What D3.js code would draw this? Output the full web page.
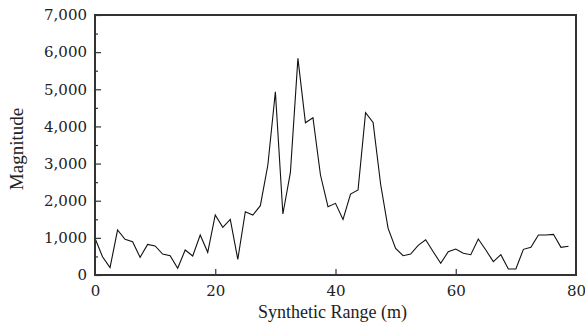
<!DOCTYPE html>
<html>
<head>
<meta charset="utf-8">
<script src="https://cdnjs.cloudflare.com/ajax/libs/d3/7.8.5/d3.min.js"></script>
<style>
  body { margin: 0; background: #fff; }
</style>
</head>
<body>
<div id="chart"></div>
<script>
// sample spacing along the synthetic range (m)
var step = 1.25;
var magnitude = [
    990, 493, 197, 1211, 960, 897, 476, 825, 781, 565,
    520, 180, 673, 511, 1077, 610, 1615, 1283, 1498, 422,
    1705, 1615, 1866, 2961, 4935, 1642, 2764, 5833, 4100, 4235,
    2692, 1839, 1929, 1498, 2180, 2288, 4370, 4110, 2450, 1256,
    718, 520, 565, 800, 950, 628, 314, 628, 700, 583,
    547, 969, 673, 359, 547, 161, 161, 691, 745, 1077,
    1077, 1095, 745, 772
];
var xTicks = [0, 20, 40, 60, 80];
var yTicks = [0, 1000, 2000, 3000, 4000, 5000, 6000, 7000];
var yMinor = [500, 1500, 2500, 3500, 4500, 5500, 6500];

var serif = "'Liberation Serif', 'DejaVu Serif', serif";
var tickFont = "'DejaVu Serif', serif";
var width = 585, height = 325;
var margin = {top: 15, right: 9, bottom: 50, left: 95};

var svg = d3.select("#chart").append("svg")
    .attr("width", width)
    .attr("height", height);

var x = d3.scaleLinear().domain([0, 80]).range([margin.left, width - margin.right]);
var y = d3.scaleLinear().domain([0, 7000]).range([height - margin.bottom, margin.top]);

var fmt = d3.format(",");

// data line
var line = d3.line()
    .x(function(d, i) { return x(i * step); })
    .y(function(d) { return y(d); });

svg.append("path")
    .datum(magnitude)
    .attr("fill", "none")
    .attr("stroke", "#111")
    .attr("stroke-width", 1.1)
    .attr("d", line);

// ticks point inward
var xAxis = svg.append("g")
    .attr("transform", "translate(0," + y(0) + ")")
    .call(d3.axisBottom(x).tickValues(xTicks).tickSize(-6).tickPadding(10).tickFormat(d3.format("d")));

var yAxis = svg.append("g")
    .attr("transform", "translate(" + x(0) + ",0)")
    .call(d3.axisLeft(y).tickValues(yTicks).tickSize(-6).tickPadding(8).tickFormat(fmt));

svg.append("g")
    .attr("transform", "translate(" + x(0) + ",0)")
    .call(d3.axisLeft(y).tickValues(yMinor).tickSize(-3).tickFormat(""));

svg.selectAll(".tick line").attr("stroke", "#333").attr("stroke-width", 1.2);
svg.selectAll(".domain").remove();
svg.selectAll(".tick text")
    .style("font-family", tickFont)
    .style("font-size", "15px")
    .attr("fill", "#222");
xAxis.selectAll(".tick").filter(function(d) { return d === 0 || d === 80; })
    .select("line").remove();

// frame
svg.append("rect")
    .attr("x", x(0))
    .attr("y", y(7000))
    .attr("width", x(80) - x(0))
    .attr("height", y(0) - y(7000))
    .attr("fill", "none")
    .attr("stroke", "#333")
    .attr("stroke-width", 2);

// axis titles
svg.append("text")
    .attr("x", (x(0) + x(80)) / 2 - 3)
    .attr("y", 318)
    .attr("text-anchor", "middle")
    .style("font-family", serif)
    .style("font-size", "18px")
    .attr("fill", "#222")
    .text("Synthetic Range (m)");

svg.append("text")
    .attr("transform", "translate(23," + (y(3500) + 4) + ") rotate(-90)")
    .attr("text-anchor", "middle")
    .style("font-family", serif)
    .style("font-size", "19px")
    .attr("fill", "#222")
    .text("Magnitude");
</script>
</body>
</html>
